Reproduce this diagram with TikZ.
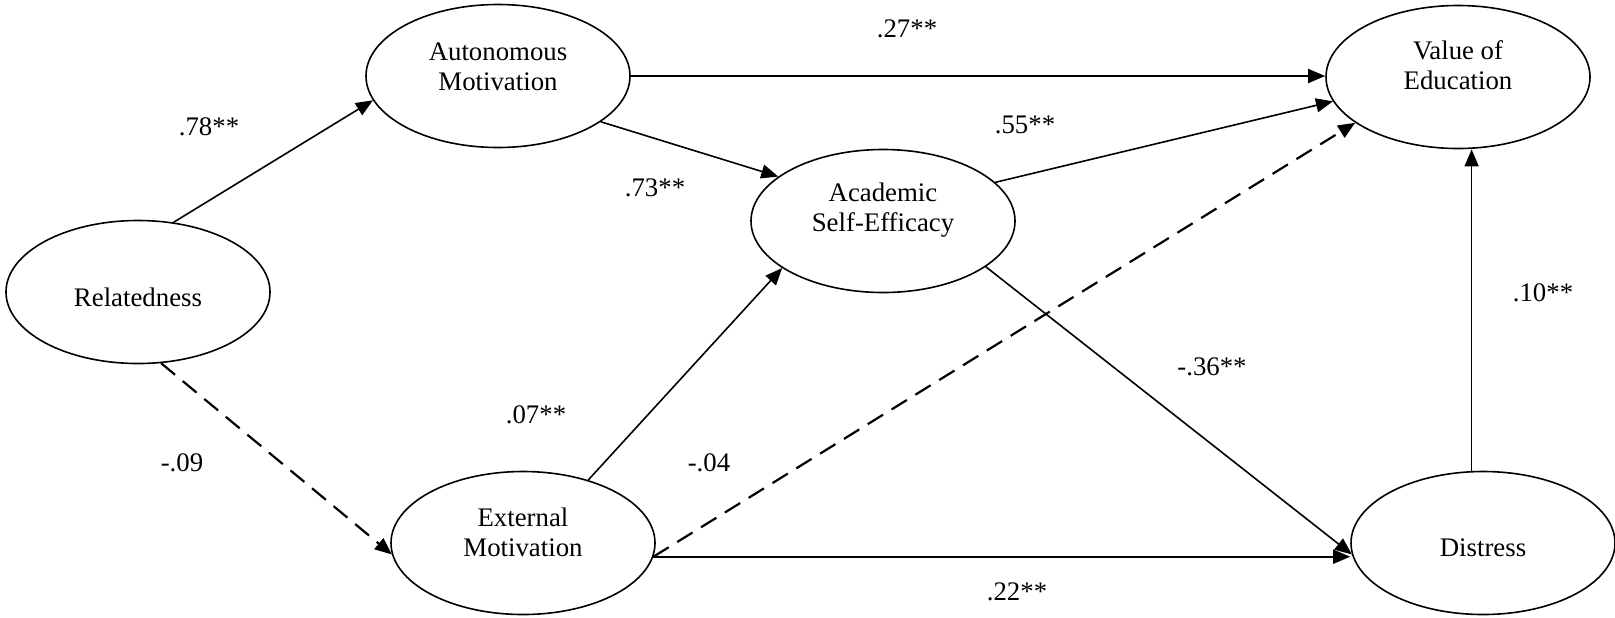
\documentclass[tikz,border=0pt]{standalone}
\usepackage{fontspec}
\setmainfont{Liberation Serif}
\usetikzlibrary{shapes.geometric,arrows.meta,positioning}
\tikzset{%
  latent/.style = {shape=ellipse, draw, line width=0.8pt, inner sep=0pt,%
                   minimum width=132pt, minimum height=71.5pt},%
  vname/.style  = {align=center},%
  effect/.style = {line width=0.8pt, -{Triangle[length=8.5pt,width=7pt]}},%
  nsig/.style   = {effect, line width=1.1pt, dash pattern=on 9pt off 5pt},%
  coef/.style   = {inner sep=0pt}%
}

\begin{document}
\begin{tikzpicture}[x=0.5pt, y=-0.5pt,
	every node/.style={font=\fontsize{13.4}{15}\selectfont}]
	\useasboundingbox (0,0) rectangle (1615,617);
	% latent variables
	\node [latent, label={[vname,yshift=-2.5pt]center:Relatedness}] (rel) at (138,292) {};
	\node [latent, label={[vname,yshift=4.5pt]center:Autonomous\\Motivation}] (am) at (498,76) {};
	\node [latent, label={[vname,yshift=5.5pt]center:External\\Motivation}] (ext) at (523,543) {};
	\node [latent, label={[vname,yshift=5.5pt]center:Academic\\Self-Efficacy}] (ase) at (883,221) {};
	\node [latent, label={[vname,yshift=6pt]center:Value of\\Education}] (val) at (1458,77) {};
	\node [latent, label={[vname,yshift=-2.5pt]center:Distress}] (dis) at (1483,543) {};
	% paths
	\draw [effect] (rel.63) -- (am.191);
	\draw [nsig] (rel.-72) -- (ext.185);
	\draw [effect] (am.east) -- (am.east -| val.west);
	\draw [effect] (am.-24) -- (ase.157);
	\draw [effect] (ase.19) -- (val.191);
	\draw [effect] (ext.44) -- (ase.205);
	\draw [nsig] (ext.-6) -- (val.204);
	\draw [effect] (ext.-6) -- (ext.-6 -| dis.west);
	\draw [effect] (ase.-24) -- (dis.185);
	\draw [effect] (dis.99) -- (dis.99 |- val.south);
	% coefficients
	\node [coef] (c78) at (209,127) {.78**};
	\node [coef] (c09) at (182,463) {-.09};
	\node [coef] (c27) at (907,29) {.27**};
	\node [coef] (c73) at (655,188) {.73**};
	\node [coef] (c55) at (1025,125) {.55**};
	\node [coef] (c07) at (536,415) {.07**};
	\node [coef] (c04) at (709,463) {-.04};
	\node [coef] (c36) at (1212,367) {-.36**};
	\node [coef] (c22) at (1017,592) {.22**};
	\node [coef] (c10) at (1543,293) {.10**};
\end{tikzpicture}
\end{document}
